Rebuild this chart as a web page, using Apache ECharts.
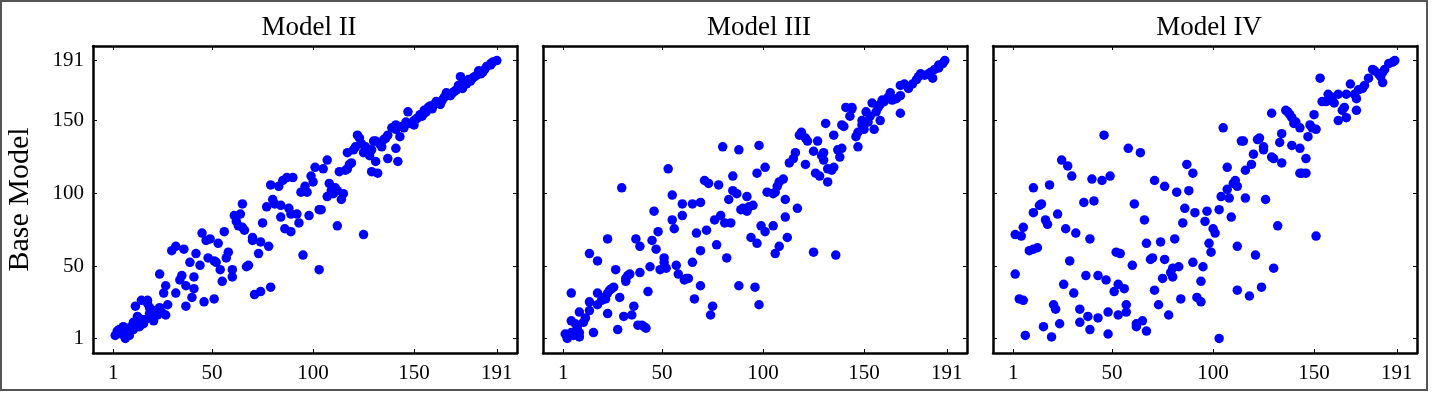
<!DOCTYPE html>
<html>
<head>
<meta charset="utf-8">
<script src="https://cdn.jsdelivr.net/npm/echarts@6/dist/echarts.min.js"></script>
<style>
  html, body { margin: 0; padding: 0; background: #fff; }
  #chart { width: 1435px; height: 393px; }
</style>
</head>
<body>
<div id="chart"></div>
<script>
  // rank ticks shared by every panel
  const tickValues = [1, 50, 100, 150, 191];
  const panelTitles = ['Model II', 'Model III', 'Model IV'];

  // [rank in model, rank in base model]
  const modelII = [
    [2,3],[4,7],[7,1],[8,5],[10,9],[11,7],[13,11],[12,23],[15,27],[18,25],[18,27],[13,16],[16,11],[19,18],
    [21,13],[22,20],[23,17],[27,17],[28,24],[24,45],[26,32],[27,37],[30,61],[32,64],[36,62],[32,32],[34,41],
    [35,44],[37,37],[37,23],[39,53],[40,29],[41,35],[41,43],[42,59],[44,51],[45,73],[46,26],[47,68],[49,69],
    [48,56],[51,54],[51,28],[52,53],[53,66],[54,48],[55,40],[56,74],[57,56],[58,60],[60,43],[60,48],[61,85],
    [62,81],[63,78],[64,86],[65,77],[65,93],[66,75],[67,50],[68,51],[70,68],[70,70],[71,31],[73,59],[74,33],
    [74,67],[75,80],[77,91],[78,64],[79,106],[79,36],[80,96],[81,93],[83,105],[84,84],[84,92],[85,109],[86,76],
    [87,111],[88,90],[89,86],[89,74],[90,111],[92,86],[93,80],[94,101],[95,58],[96,105],[97,101],[98,85],
    [99,112],[100,108],[101,118],[103,89],[103,48],
    [3,6],[5,4],[6,9],[9,3],[11,12],[14,9],[15,14],[17,14],[19,22],[20,16],[24,22],[25,19],
    [104,89],[191,191],[189,190],[188,188],[186,187],[185,185],[184,183],[183,182],[181,181],[179,179],[178,177],
    [176,175],[173,180],[174,172],[174,173],[171,171],[169,169],[168,167],[166,169],[165,166],[164,164],
    [163,161],[161,163],[160,161],[159,158],[157,159],[155,157],[155,155],[154,153],[152,152],[150,150],
    [150,147],[148,148],[147,156],[146,149],[145,145],[143,139],[141,147],[141,144],[139,145],[137,140],
    [136,138],[135,137],[133,134],[131,136],[130,136],[129,130],[128,126],[127,129],[126,131],[126,132],
    [125,128],[124,134],[123,138],[122,140],[121,132],[120,130],[119,121],[118,120],[117,117],[117,128],
    [116,116],[113,115],[107,123],[105,117],[132,114],[129,115],[131,122],[137,124],[142,122],[141,131],
    [134,132],[108,107],[110,100],[109,102],[111,104],[112,102],[115,100],[114,96],[107,98],[112,78],[125,72],
    [188,189],[182,184],[180,180],[177,178],[175,176],[172,174],[170,170],[167,168],[162,162],[158,160],
    [156,156],[153,154],[151,151],[149,148],[144,146]
  ];

  const modelIII = [
    [2,4],[3,1],[5,5],[6,3],[8,9],[5,13],[7,11],[9,2],[9,5],[11,12],[12,15],[9,19],[5,32],[14,20],[14,26],
    [16,5],[14,59],[18,54],[18,32],[18,24],[20,27],[21,29],[22,28],[23,18],[23,32],[24,34],[25,35],[26,36],
    [27,48],[28,7],[29,29],[30,104],[31,16],[32,40],[32,42],[33,44],[34,45],[35,17],[36,23],[37,69],[38,10],
    [39,64],[39,46],[40,10],[41,9],[42,8],[43,33],[44,50],[45,68],[46,88],[47,62],[48,74],[49,48],[51,56],
    [51,53],[52,49],[53,117],[55,99],[55,82],[56,76],[57,51],[58,45],[60,93],[60,85],[61,41],[62,42],[63,42],
    [65,93],[65,53],[66,28],[67,73],[69,94],[69,61],[69,37],[72,75],[71,109],[73,107],[74,17],[75,23],[76,82],
    [77,65],[78,106],[79,85],[80,132],[81,80],[82,56],[83,96],[84,80],[85,102],[85,112],[87,100],[88,130],
    [88,37],[89,89],[90,90],[92,98],[92,88],[93,91],[94,70],[95,92],[96,36],[97,114],[97,66],[98,133],[98,24],
    [23,69],
    [190,191],[189,189],[187,188],[187,186],[185,185],[184,179],[183,183],[182,182],[180,181],[178,182],
    [177,180],[176,178],[174,175],[172,172],[172,173],[170,175],[168,174],[168,167],[168,155],[166,165],
    [164,164],[163,169],[162,166],[160,163],[159,164],[158,161],[158,150],[157,159],[156,156],[155,144],
    [154,162],[153,153],[152,149],[151,156],[150,144],[149,147],[149,150],[147,142],[146,139],[147,132],
    [144,159],[144,158],[141,159],[143,153],[139,147],[140,146],[138,125],[139,131],[137,130],[135,140],
    [135,118],[134,116],[132,117],[132,108],[131,148],[130,128],[130,123],[129,126],[127,136],[126,114],
    [128,112],[125,129],[122,136],[121,138],[121,120],[119,142],[118,140],[117,90],[116,128],[115,124],
    [113,121],[111,84],[111,96],[110,110],[108,108],[107,105],[106,101],[105,100],[102,101],[101,118],
    [99,78],[101,74],[105,78],[106,59],[108,64],[112,70],[125,60],[136,58]
  ];

  const modelIV = [
    [2,45],[4,28],[6,27],[7,3],[2,72],[5,71],[6,77],[9,61],[11,62],[13,63],[11,87],[14,92],[15,93],[11,104],
    [17,82],[18,79],[19,106],[16,9],[20,2],[21,24],[22,21],[23,86],[24,11],[25,123],[26,38],[27,76],[28,119],
    [29,54],[30,112],[31,32],[32,73],[34,21],[34,12],[36,94],[37,44],[38,16],[39,69],[39,7],[40,110],[41,95],
    [43,44],[43,15],[45,109],[46,140],[47,41],[48,19],[48,4],[49,112],[51,33],[52,60],[53,17],[53,38],[54,59],
    [56,35],[57,19],[57,24],[58,131],[60,51],[61,93],[62,9],[62,11],[64,128],[65,13],[66,82],[67,6],[67,66],
    [69,55],[70,56],[71,109],[71,34],[73,24],[74,67],[75,42],[76,55],[76,105],[78,17],[79,46],[80,43],[80,49],
    [81,69],[82,101],[83,50],[84,28],[85,80],[86,90],[87,120],[88,102],[90,53],[90,114],[91,87],[92,29],
    [94,40],[94,26],[95,50],[96,81],[97,88],[98,66],[99,60],
    [190,191],[189,190],[187,189],[185,185],[184,183],[183,180],[184,176],[182,182],[180,184],[179,185],
    [177,179],[175,174],[174,172],[172,171],[171,165],[171,157],[170,168],[168,175],[166,168],[165,159],
    [164,157],[162,150],[166,152],[162,168],[160,162],[159,166],[158,164],[157,168],[156,163],[154,163],
    [153,179],[150,154],[149,145],[151,144],[148,147],[147,139],[143,145],[141,149],[140,148],[139,152],
    [138,154],[137,156],[136,157],[134,141],[133,135],[129,155],[144,114],[143,114],[146,114],[143,131],
    [146,124],[139,133],[134,121],[129,125],[130,124],[125,130],[125,132],[123,138],[122,137],[120,127],
    [119,120],[116,116],[114,136],[115,136],[107,118],[105,145],[110,107],[112,105],[111,109],[107,103],
    [104,98],[108,97],[116,97],[126,96],[103,89],[100,76],[101,73],[109,84],[132,78],[151,71],[112,64],
    [121,58],[130,49],[124,36],[112,34],[118,30],[103,1]
  ];

  const panelData = [modelII, modelIII, modelIV];

  const serif = 'Liberation Serif';
  const gridLefts = [93, 543, 993];

  let chart = echarts.init(document.getElementById('chart'));

  let grids = [], xAxes = [], yAxes = [], titles = [], series = [];

  panelData.forEach(function (data, i) {
    grids.push({left: gridLefts[i], top: 46, width: 424, height: 307});

    titles.push({
      text: panelTitles[i],
      left: gridLefts[i] + 211,
      top: 9,
      textAlign: 'center',
      textStyle: {fontFamily: serif, fontSize: 27, fontWeight: 'normal', color: '#000'}
    });

    // bottom + top x axes (top only carries ticks)
    ['bottom', 'top'].forEach(function (pos) {
      xAxes.push({
        type: 'value',
        gridIndex: i,
        position: pos,
        min: -9,
        max: 201,
        axisLine: {show: true, onZero: false, lineStyle: {color: '#000', width: 2.5}},
        axisTick: {show: true, inside: true, length: 4, customValues: tickValues,
          lineStyle: {color: '#000', width: 1}},
        axisLabel: {show: pos === 'bottom', customValues: tickValues, margin: 10,
          fontFamily: serif, fontSize: 21, color: '#000'},
        splitLine: {show: false}
      })
    });

    ['left', 'right'].forEach(function (pos) {
      let ax = {
        type: 'value',
        gridIndex: i,
        position: pos,
        min: -9,
        max: 201,
        axisLine: {show: true, onZero: false, lineStyle: {color: '#000', width: 2.5}},
        axisTick: {show: true, inside: true, length: 4, customValues: tickValues,
          lineStyle: {color: '#000', width: 1}},
        axisLabel: {show: pos === 'left' && i === 0, customValues: tickValues, margin: 9,
          fontFamily: serif, fontSize: 21, color: '#000'},
        splitLine: {show: false}
      };
      if (pos === 'left' && i === 0) {
        ax.name = 'Base Model';
        ax.nameLocation = 'middle';
        ax.nameGap = 58;
        ax.nameTextStyle = {fontFamily: serif, fontSize: 30, color: '#000'};
      }
      yAxes.push(ax)
    });

    series.push({
      type: 'scatter',
      xAxisIndex: i * 2,
      yAxisIndex: i * 2,
      symbolSize: 9.5,
      itemStyle: {color: '#0000ff', opacity: 1},
      data: data
    })
  });

  chart.setOption({
    animation: false,
    backgroundColor: '#fff',
    title: titles,
    grid: grids,
    xAxis: xAxes,
    yAxis: yAxes,
    series: series,
    graphic: [{
      type: 'rect',
      shape: {x: 1, y: 1, width: 1426, height: 389},
      style: {fill: 'none', stroke: '#555', lineWidth: 2},
      silent: true
    }]
  });
</script>
</body>
</html>
